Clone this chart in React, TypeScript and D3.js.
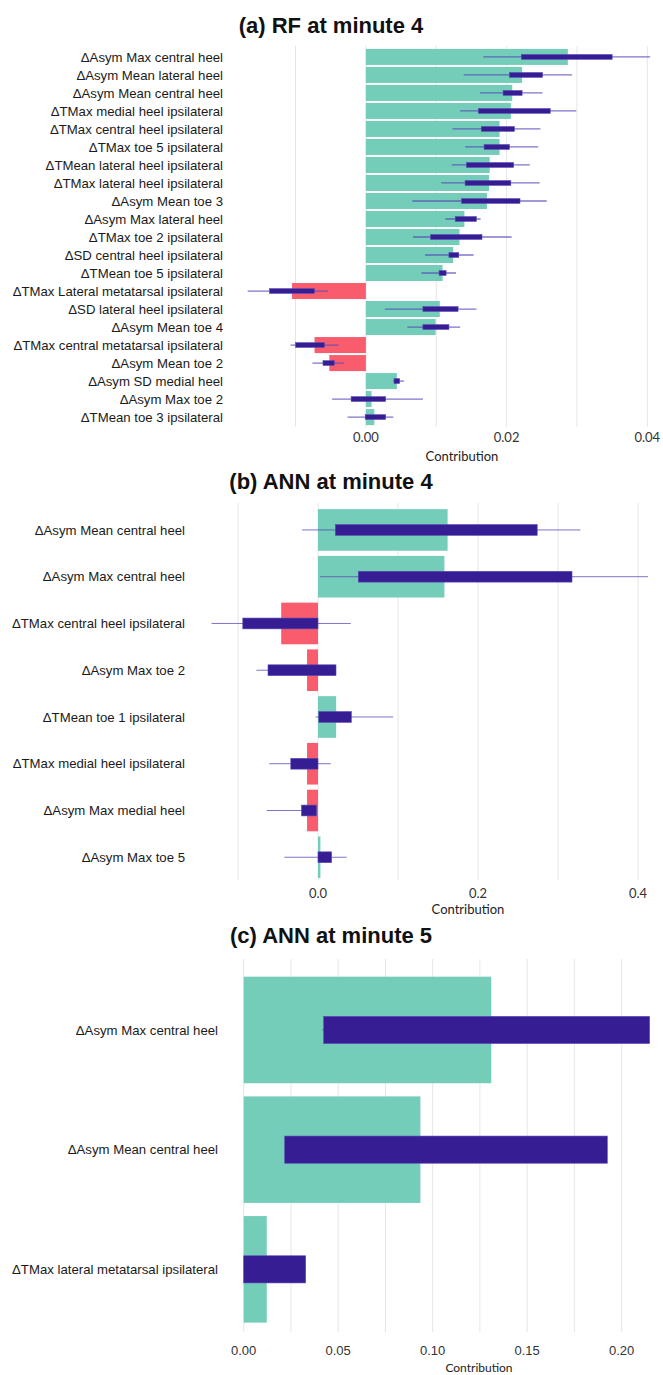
import React from 'react';
import * as d3 from 'd3';

// (a) RF at minute 4
const rfLabels = [
  'ΔAsym Max central heel', 'ΔAsym Mean lateral heel', 'ΔAsym Mean central heel',
  'ΔTMax medial heel ipsilateral', 'ΔTMax central heel ipsilateral', 'ΔTMax toe 5 ipsilateral',
  'ΔTMean lateral heel ipsilateral', 'ΔTMax lateral heel ipsilateral', 'ΔAsym Mean toe 3',
  'ΔAsym Max lateral heel', 'ΔTMax toe 2 ipsilateral', 'ΔSD central heel ipsilateral',
  'ΔTMean toe 5 ipsilateral', 'ΔTMax Lateral metatarsal ipsilateral', 'ΔSD lateral heel ipsilateral',
  'ΔAsym Mean toe 4', 'ΔTMax central metatarsal ipsilateral', 'ΔAsym Mean toe 2',
  'ΔAsym SD medial heel', 'ΔAsym Max toe 2', 'ΔTMean toe 3 ipsilateral',
];
const rfBar = [0.0287, 0.0222, 0.0208, 0.0206, 0.019, 0.019, 0.0176, 0.0175, 0.0172, 0.014, 0.0133, 0.0124, 0.0109, -0.0105, 0.0105, 0.0099, -0.0073, -0.0052, 0.0044, 0.0008, 0.0012];
const rfLo = [0.0167, 0.0139, 0.0162, 0.0134, 0.0123, 0.0141, 0.0122, 0.0107, 0.0066, 0.0113, 0.0067, 0.0084, 0.0079, -0.0168, 0.0027, 0.0059, -0.0107, -0.0076, 0.0039, -0.0048, -0.0026];
const rfHi = [0.0404, 0.0293, 0.0251, 0.0299, 0.0248, 0.0245, 0.0233, 0.0247, 0.0257, 0.0163, 0.0207, 0.0153, 0.0128, -0.0054, 0.0157, 0.0134, -0.0039, -0.0031, 0.0054, 0.0081, 0.0039];
const rfQ1 = [0.0221, 0.0204, 0.0195, 0.016, 0.0164, 0.0168, 0.0143, 0.0141, 0.0136, 0.0127, 0.0092, 0.0118, 0.0104, -0.0137, 0.0081, 0.0081, -0.01, -0.0061, 0.004, -0.0021, -0.0001];
const rfQ3 = [0.035, 0.0251, 0.0222, 0.0262, 0.0211, 0.0204, 0.021, 0.0206, 0.0219, 0.0157, 0.0165, 0.0132, 0.0114, -0.0073, 0.0131, 0.0118, -0.0059, -0.0045, 0.0048, 0.0028, 0.0028];
const rfTicks = [0, 0.02, 0.04];
const rfGrid = [-0.01, 0, 0.01, 0.02, 0.03, 0.04];

// (b) ANN at minute 4
const ann4Labels = [
  'ΔAsym Mean central heel', 'ΔAsym Max central heel', 'ΔTMax central heel ipsilateral',
  'ΔAsym Max toe 2', 'ΔTMean toe 1 ipsilateral', 'ΔTMax medial heel ipsilateral',
  'ΔAsym Max medial heel', 'ΔAsym Max toe 5',
];
const ann4Bar = [0.162, 0.158, -0.046, -0.0137, 0.0227, -0.0137, -0.0137, 0.003];
const ann4Lo = [-0.02, 0.0025, -0.133, -0.077, -0.003, -0.061, -0.064, -0.042];
const ann4Hi = [0.328, 0.4125, 0.041, 0.0225, 0.094, 0.016, -0.001, 0.036];
const ann4Q1 = [0.0217, 0.0504, -0.094, -0.0625, 0.001, -0.034, -0.0206, 0];
const ann4Q3 = [0.274, 0.3175, 0, 0.0225, 0.0417, 0, -0.002, 0.017];
const ann4Ticks = [0, 0.2, 0.4];
const ann4Grid = [-0.1, 0, 0.1, 0.2, 0.3, 0.4];

// (c) ANN at minute 5
const ann5Labels = ['ΔAsym Max central heel', 'ΔAsym Mean central heel', 'ΔTMax lateral metatarsal ipsilateral'];
const ann5Bar = [0.131, 0.0935, 0.0122];
const ann5Lo = [0.0415, 0.0217, 0];
const ann5Hi = [0.2148, 0.1924, 0.0328];
const ann5Q1 = [0.0423, 0.0217, 0];
const ann5Q3 = [0.2148, 0.1924, 0.0328];
const ann5Ticks = [0, 0.05, 0.1, 0.15, 0.2];
const ann5Grid = [0, 0.025, 0.05, 0.075, 0.1, 0.125, 0.15, 0.175, 0.2];

const TEAL = '#74cdb8';
const RED = '#f95d6d';
const PURPLE = '#361d94';
const WHISK = '#5446b8';
const LABEL_FONT = '"Liberation Sans", Arial, sans-serif';
const AXIS_FONT = 'Lato, "Open Sans", sans-serif';

interface PanelProps {
  title: string;
  titleY: number;
  labels: string[];
  bar: number[];
  lo: number[];
  hi: number[];
  q1: number[];
  q3: number[];
  ticks: number[];
  grid: number[];
  tickFmt: (v: number) => string;
  domain: [number, number];
  xRange: [number, number];
  yRange: [number, number];
  gridY: [number, number];
  labelX: number;
  tickY: number;
  axisTitleX: number;
  axisTitleY: number;
  boxFrac: number;
  whiskW: number;
  tickFont: string;
  tickSize: number;
  axisTitleSize: number;
}

const Panel: React.FC<PanelProps> = (p) => {
  const x = d3.scaleLinear().domain(p.domain).range(p.xRange);
  const y = d3.scaleBand<string>().domain(p.labels).range(p.yRange).paddingInner(0.11).paddingOuter(0.05);
  const bw = y.bandwidth();
  const boxH = bw * p.boxFrac;
  const x0 = x(0);
  return (
    <g>
      <text x={331} y={p.titleY} textAnchor="middle" fontFamily={LABEL_FONT} fontWeight="bold" fontSize={22} fill="#111">{p.title}</text>
      {p.grid.map((g) => (
        <line key={g} x1={x(g)} x2={x(g)} y1={p.gridY[0]} y2={p.gridY[1]} stroke="#e6e6e6" strokeWidth={1} />
      ))}
      {p.labels.map((l, i) => {
        const yb = y(l) as number;
        const cy = yb + bw / 2;
        const v = p.bar[i];
        return (
          <g key={l}>
            <rect x={Math.min(x0, x(v))} y={yb} width={Math.abs(x(v) - x0)} height={bw} fill={v >= 0 ? TEAL : RED} />
            <line x1={x(p.lo[i])} x2={x(p.hi[i])} y1={cy} y2={cy} stroke={WHISK} strokeOpacity={0.75} strokeWidth={p.whiskW} />
            <rect x={x(p.q1[i])} y={cy - boxH / 2} width={x(p.q3[i]) - x(p.q1[i])} height={boxH} fill={PURPLE} stroke="#5a48b8" strokeWidth={0.6} />
            <text x={p.labelX} y={cy} dy="0.35em" textAnchor="end" fontFamily={LABEL_FONT} fontSize={13.2} fill="#1a1a1a">{l}</text>
          </g>
        );
      })}
      {p.ticks.map((t) => (
        <text key={t} x={x(t)} y={p.tickY} textAnchor="middle" fontFamily={p.tickFont} fontSize={p.tickSize} fill="#333">{p.tickFmt(t)}</text>
      ))}
      <text x={p.axisTitleX} y={p.axisTitleY} textAnchor="middle" fontFamily={AXIS_FONT} fontSize={p.axisTitleSize} fill="#222">Contribution</text>
    </g>
  );
};

export default function App() {
  return (
    <svg width={663} height={1375} style={{ position: 'absolute', left: 0, top: 0, background: '#fff' }}>
      <Panel
        title="(a) RF at minute 4" titleY={33}
        labels={rfLabels} bar={rfBar} lo={rfLo} hi={rfHi} q1={rfQ1} q3={rfQ3}
        ticks={rfTicks} grid={rfGrid} tickFmt={d3.format('.2f')}
        domain={[-0.0196, 0.0418]} xRange={[228, 660]} yRange={[48, 426]} gridY={[46, 427]}
        labelX={223} tickY={442} axisTitleX={462} axisTitleY={461} boxFrac={0.3} whiskW={1.3}
        tickFont={AXIS_FONT} tickSize={13} axisTitleSize={13}
      />
      <Panel
        title="(b) ANN at minute 4" titleY={489}
        labels={ann4Labels} bar={ann4Bar} lo={ann4Lo} hi={ann4Hi} q1={ann4Q1} q3={ann4Q3}
        ticks={ann4Ticks} grid={ann4Grid} tickFmt={d3.format('.1f')}
        domain={[-0.1575, 0.4275]} xRange={[192, 660]} yRange={[506.8, 880.4]} gridY={[503, 880]}
        labelX={185} tickY={898} axisTitleX={468} axisTitleY={914} boxFrac={0.26} whiskW={1}
        tickFont={AXIS_FONT} tickSize={13} axisTitleSize={13}
      />
      <Panel
        title="(c) ANN at minute 5" titleY={943}
        labels={ann5Labels} bar={ann5Bar} lo={ann5Lo} hi={ann5Hi} q1={ann5Q1} q3={ann5Q3}
        ticks={ann5Ticks} grid={ann5Grid} tickFmt={d3.format('.2f')}
        domain={[0, 0.215]} xRange={[243.7, 650]} yRange={[970.7, 1328.6]} gridY={[959, 1332]}
        labelX={218} tickY={1355} axisTitleX={479} axisTitleY={1372} boxFrac={0.255} whiskW={1}
        tickFont={LABEL_FONT} tickSize={13} axisTitleSize={12}
      />
    </svg>
  );
}
